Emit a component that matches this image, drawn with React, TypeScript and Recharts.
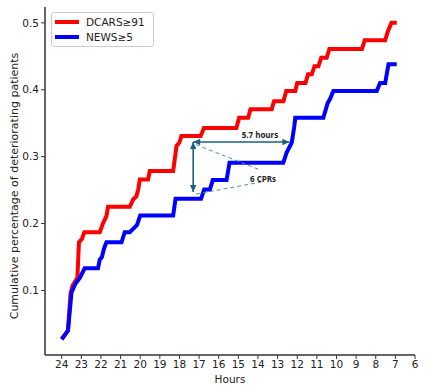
import React from 'react';
import {
  LineChart,
  Line,
  XAxis,
  YAxis,
  ReferenceLine,
  ReferenceDot,
} from 'recharts';

// Hours before event (x axis runs 24 -> 6)
const xTicks = [24, 23, 22, 21, 20, 19, 18, 17, 16, 15, 14, 13, 12, 11, 10, 9, 8, 7, 6];
const yTicks = [0.1, 0.2, 0.3, 0.4, 0.5];

const dcarsHours = [
  24.0, 23.68, 23.55, 23.45, 23.2, 23.12, 22.97, 22.85, 22.06, 21.9, 21.72, 21.64, 20.53, 20.36,
  20.19, 20.1, 20.02, 19.6, 19.51, 18.32, 18.15, 18.0, 17.9, 16.92, 16.75, 15.1, 14.96, 14.5,
  14.38, 13.3, 13.18, 12.7, 12.56, 12.1, 12.0, 11.58, 11.45, 11.26, 11.12, 10.92, 10.78, 10.5,
  10.36, 8.7, 8.56, 7.52, 7.38, 7.2, 6.93,
];
const dcarsValues = [
  0.027, 0.04, 0.095, 0.107, 0.119, 0.172, 0.177, 0.187, 0.187, 0.2, 0.211, 0.225, 0.225, 0.236,
  0.241, 0.251, 0.266, 0.266, 0.2785, 0.2785, 0.316, 0.321, 0.331, 0.331, 0.343, 0.343, 0.358,
  0.358, 0.371, 0.371, 0.383, 0.383, 0.398, 0.398, 0.41, 0.41, 0.423, 0.423, 0.435, 0.435, 0.448,
  0.448, 0.461, 0.461, 0.474, 0.474, 0.4875, 0.5, 0.5,
];

const newsHours = [
  24.0, 23.68, 23.5, 23.3, 23.07, 22.83, 22.15, 22.06, 21.95, 21.85, 21.72, 20.95, 20.79, 20.53,
  20.16, 20.0, 18.32, 18.2, 16.9, 16.74, 16.45, 16.3, 15.6, 15.45, 12.71, 12.54, 12.28, 12.15,
  12.1, 10.67, 10.45, 10.33, 10.16, 7.95, 7.78, 7.52, 7.35, 6.93,
];
const newsValues = [
  0.027, 0.04, 0.097, 0.11, 0.119, 0.133, 0.133, 0.146, 0.15, 0.162, 0.172, 0.172, 0.187, 0.187,
  0.198, 0.212, 0.212, 0.237, 0.237, 0.251, 0.251, 0.265, 0.265, 0.291, 0.291, 0.306, 0.321,
  0.345, 0.358, 0.358, 0.38, 0.386, 0.398, 0.398, 0.41, 0.41, 0.438, 0.438,
];

const dcarsData = dcarsHours.map((h, i) => ({ hours: h, value: dcarsValues[i] }));
const newsData = newsHours.map((h, i) => ({ hours: h, value: newsValues[i] }));

const X_DOMAIN: [number, number] = [6, 24.85];
const Y_DOMAIN: [number, number] = [0.0035, 0.5237];

const ARROW = '#1d5f7d';
const DASH = '#4b93b5';
const FONT = "'DejaVu Sans', sans-serif";

// line with arrow heads on both ends
const DoubleArrow = (props: any) => {
  const { x1, y1, x2, y2 } = props;
  const ang = Math.atan2(y2 - y1, x2 - x1);
  const head = (x: number, y: number, a: number) => {
    const len = 7;
    const w = 3.2;
    const bx = x - len * Math.cos(a);
    const by = y - len * Math.sin(a);
    const px = -Math.sin(a) * w;
    const py = Math.cos(a) * w;
    return `${x},${y} ${bx + px},${by + py} ${bx - px},${by - py}`;
  };
  return (
    <g>
      <line x1={x1} y1={y1} x2={x2} y2={y2} stroke={ARROW} strokeWidth={1.6} />
      <polygon points={head(x2, y2, ang)} fill={ARROW} />
      <polygon points={head(x1, y1, ang + Math.PI)} fill={ARROW} />
    </g>
  );
};

const Note = (text: string) => (props: any) => (
  <text
    x={props.cx}
    y={props.cy}
    textAnchor="middle"
    dominantBaseline="central"
    fontFamily="'Open Sans', sans-serif"
    fontWeight={700}
    fontSize={8}
    fill="#222"
  >
    {text}
  </text>
);

const YTitle = () => (
  <text
    x={14.5}
    y={186}
    transform="rotate(-90 14.5 186)"
    textAnchor="middle"
    dominantBaseline="central"
    fontSize={11}
    fill="#222"
    fontFamily={FONT}
  >
    Cumulative percentage of deteriorating patients
  </text>
);

const LegendBox = () => (
  <div
    style={{
      position: 'absolute',
      left: 51,
      top: 12,
      border: '1px solid #cccccc',
      borderRadius: 3,
      background: '#fff',
      padding: '2px 8px 2px 3px',
      fontFamily: FONT,
      fontSize: 10.5,
      color: '#222',
      lineHeight: '14.5px',
    }}
  >
    {[
      { name: 'DCARS≥91', color: '#ff0000' },
      { name: 'NEWS≥5', color: '#0000ff' },
    ].map((it) => (
      <div key={it.name} style={{ display: 'flex', alignItems: 'center' }}>
        <span style={{ width: 24, height: 4, background: it.color, marginRight: 7 }} />
        <span>{it.name}</span>
      </div>
    ))}
  </div>
);

export default function App() {
  const tickStyle = { fontSize: 10.5, fill: '#222', fontFamily: FONT };
  return (
    <div style={{ position: 'absolute', left: 0, top: 0, width: 429, height: 392, background: '#fff' }}>
      <LineChart width={429} height={392} margin={{ top: 7, right: 14, bottom: 0, left: 0 }}>
        <XAxis
          dataKey="hours"
          type="number"
          domain={X_DOMAIN}
          reversed
          ticks={xTicks}
          interval={0}
          allowDataOverflow
          allowDuplicatedCategory={false}
          tick={tickStyle}
          tickSize={4}
          tickLine={{ stroke: '#333' }}
          axisLine={{ stroke: '#333', strokeWidth: 1.5 }}
          height={37}
          label={{
            value: 'Hours',
            position: 'insideBottom',
            offset: 9,
            style: { fontSize: 10.5, fill: '#222', fontFamily: FONT },
          }}
        />
        <XAxis
          xAxisId="top"
          orientation="top"
          type="number"
          domain={X_DOMAIN}
          reversed
          allowDataOverflow
          tick={false}
          tickLine={false}
          axisLine={{ stroke: '#333', strokeWidth: 1.5 }}
          height={0}
        />
        <YAxis
          type="number"
          domain={Y_DOMAIN}
          allowDataOverflow
          ticks={yTicks}
          interval={0}
          tick={tickStyle}
          tickSize={4}
          tickLine={{ stroke: '#333' }}
          axisLine={{ stroke: '#333', strokeWidth: 1.5 }}
          width={45}
          label={{ content: YTitle }}
        />
        <YAxis
          yAxisId="right"
          orientation="right"
          type="number"
          domain={Y_DOMAIN}
          allowDataOverflow
          tick={false}
          tickLine={false}
          axisLine={{ stroke: '#333', strokeWidth: 1.5 }}
          width={0}
        />
        <Line
          data={dcarsData}
          dataKey="value"
          name="DCARS≥91"
          type="linear"
          stroke="#ff0000"
          strokeWidth={4}
          dot={false}
          isAnimationActive={false}
        />
        <Line
          data={newsData}
          dataKey="value"
          name="NEWS≥5"
          type="linear"
          stroke="#0000ff"
          strokeWidth={4}
          dot={false}
          isAnimationActive={false}
        />
        <ReferenceLine
          segment={[
            { x: 17.16, y: 0.318 },
            { x: 13.85, y: 0.2796 },
          ]}
          stroke={DASH}
          strokeDasharray="4 3"
          strokeWidth={1}
        />
        <ReferenceLine
          segment={[
            { x: 17.16, y: 0.244 },
            { x: 13.85, y: 0.262 },
          ]}
          stroke={DASH}
          strokeDasharray="4 3"
          strokeWidth={1}
        />
        <ReferenceLine
          segment={[
            { x: 17.3, y: 0.322 },
            { x: 17.3, y: 0.247 },
          ]}
          shape={DoubleArrow}
        />
        <ReferenceLine
          segment={[
            { x: 17.3, y: 0.322 },
            { x: 12.4, y: 0.322 },
          ]}
          shape={DoubleArrow}
        />
        <ReferenceDot x={13.9} y={0.3333} r={0} shape={Note('5.7 hours')} />
        <ReferenceDot x={13.74} y={0.267} r={0} shape={Note('6 CPRs')} />
      </LineChart>
      <LegendBox />
    </div>
  );
}
